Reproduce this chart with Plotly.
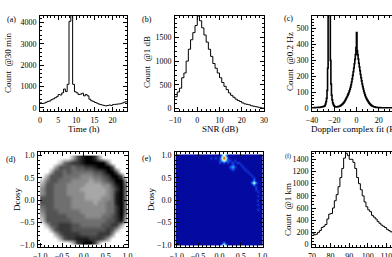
import plotly.graph_objects as go

FONT = "Liberation Serif"
W, H = 392, 257

# ---------------- data ----------------
# (a) counts per 30 min, 0..24 h
time_edges_a = [i * 0.5 for i in range(49)]
count_30min = [230, 200, 220, 260, 300, 320, 380, 420, 470, 520,
               620, 600, 700, 880, 760, 1100, 4050, 6000, 1100, 750,
               700, 620, 640, 680, 560, 620, 560, 400, 330, 300,
               250, 220, 180, 150, 130, 110, 90, 110, 130, 110,
               150, 160, 170, 180, 190, 220, 260, 280]

# (b) counts per 1 dB SNR, -10..30 dB
snr_edges = list(range(-10, 31))
snr_counts = [250, 350, 430, 650, 750, 1000, 1250, 1450, 1600, 1750,
              1950, 1850, 1700, 1550, 1400, 1250, 1100, 950, 850, 750,
              650, 550, 470, 400, 330, 280, 240, 200, 170, 150,
              120, 100, 90, 80, 60, 50, 40, 30, 20, 10]

# (c) Doppler counts, 0.5 Hz steps from -40 Hz
dop_edges = [-40 + i * 0.5 for i in range(161)]
dop_counts = [1, 1, 1, 1, 2, 1, 2, 2, 2, 2, 3, 2, 3, 3, 4, 4, 5, 5, 6, 7,
              8, 9, 11, 15, 24, 38, 60, 110, 250, 620, 900, 850, 600, 300, 150, 80, 50, 32, 22, 15,
              10, 8, 7, 6, 6, 6, 7, 8, 9, 10, 12, 14, 16, 19, 22, 26, 30, 34, 39, 45,
              52, 58, 65, 72, 80, 88, 97, 107, 118, 131, 146, 163, 183, 205, 228, 252, 278, 306, 336, 380,
              475, 360, 335, 308, 282, 258, 234, 211, 190, 170, 151, 134, 119, 105, 93, 82, 72, 64, 56, 50,
              44, 38, 33, 28, 24, 20, 17, 14, 12, 10, 8, 7, 6, 5, 4, 3, 3, 2, 2, 2,
              2, 1, 2, 1, 1, 1, 1, 1, 1, 1, 1, 1, 1, 1, 1, 1, 1, 1, 1, 1,
              1, 1, 1, 1, 1, 1, 1, 1, 1, 1, 1, 1, 1, 1, 1, 1, 1, 1, 1, 1]

# (d) echo density on the Dcosx / Dcosy plane (0 = none, 9 = densest), rows top -> bottom
dcos_centres = [-0.95 + 0.1 * i for i in range(20)]
density_rows = [
    "00000003689973000000",
    "00002567789999940000",
    "00036665667789996000",
    "00366565555566799600",
    "03666555544455679960",
    "25665554444344567994",
    "36655544443333446895",
    "46655544433333345795",
    "46655544443333345895",
    "66655554443333445895",
    "66655554444434455895",
    "56655554444444455795",
    "46665555544444455795",
    "36666655554444556794",
    "26666665555555566783",
    "03667776655555667730",
    "00367776666666676300",
    "00036777766667774000",
    "00003677888777630000",
    "00000003789962000000",
]

# (e) intensity map: sparse bright spots (x, y, value)
spot_x = [0.1, 0.05, 0.15, 0.1, 0.1, 0.05, 0.15, 0.05, 0.15,
          0.8, 0.75, 0.85, 0.8, 0.8,
          0.3, 0.25, 0.35, 0.3, 0.3,
          0.1, 0.05, 0.15, 0.1,
          -0.2, -0.1, 0.0, 0.2, 0.25, 0.35, 0.4, 0.45, 0.5, 0.55, 0.6, 0.65, 0.7, 0.75, 0.8,
          0.85, 0.85, 0.9, 0.9, 0.9, 0.9, 0.9,
          0.0, 0.2, 0.0, 0.1, 0.2, 0.3]
spot_y = [0.95, 0.95, 0.95, 0.9, 1.0, 0.9, 0.9, 1.0, 1.0,
          0.4, 0.4, 0.4, 0.35, 0.45,
          0.75, 0.75, 0.75, 0.7, 0.8,
          -1.0, -1.0, -1.0, -0.95,
          0.95, 0.95, 0.95, 0.95, 0.9, 0.9, 0.85, 0.85, 0.8, 0.75, 0.7, 0.65, 0.6, 0.55, 0.5,
          0.3, 0.25, 0.2, 0.1, 0.0, -0.1, -0.2,
          0.9, 0.9, 0.85, 0.85, 0.85, 0.85]
spot_v = [1.0, 0.6, 0.6, 0.6, 0.6, 0.35, 0.35, 0.35, 0.35,
          0.6, 0.3, 0.3, 0.3, 0.3,
          0.38, 0.16, 0.16, 0.16, 0.16,
          0.62, 0.3, 0.3, 0.3,
          0.12, 0.12, 0.12, 0.12, 0.12, 0.12, 0.12, 0.12, 0.12, 0.12, 0.12, 0.12, 0.12, 0.12, 0.12,
          0.12, 0.12, 0.12, 0.12, 0.12, 0.12, 0.12,
          0.15, 0.15, 0.15, 0.15, 0.15, 0.15]

# (f) counts per 1 km height, 70..120 km
height_edges = list(range(70, 121))
height_counts = [190, 160, 170, 200, 230, 280, 300, 330, 420, 500,
                 510, 600, 720, 820, 950, 1100, 1250, 1420, 1500, 1460,
                 1400, 1400, 1350, 1250, 1100, 1000, 900, 800, 700, 620,
                 570, 540, 480, 450, 420, 380, 350, 320, 300, 280,
                 250, 230, 210, 200, 190, 180, 170, 160, 150, 140]

# ---------------- figure ----------------
fig = go.Figure()


def step(x_edges, vals, xa, ya, width=1.0):
    fig.add_trace(go.Scatter(x=x_edges, y=list(vals) + [vals[-1]], mode="lines",
                             line=dict(shape="hv", color="black", width=width),
                             xaxis=xa, yaxis=ya, showlegend=False, hoverinfo="skip"))


step(time_edges_a, count_30min, "x", "y")
step(snr_edges, snr_counts, "x2", "y2")
step(dop_edges, dop_counts, "x3", "y3", width=1.6)

# (d) density heatmap
dens = [[int(c) for c in row] for row in density_rows][::-1]
fig.add_trace(go.Heatmap(x=dcos_centres, y=dcos_centres, z=dens, zmin=0, zmax=9,
                         colorscale=[[0, "white"], [0.3, "rgb(175,175,175)"], [1, "black"]],
                         zsmooth="best", showscale=False, xaxis="x4", yaxis="y4", hoverinfo="skip"))

# (e) intensity heatmap
grid = [round(-1 + 0.05 * i, 2) for i in range(41)]
zz = [[0.0] * 41 for _ in range(41)]
for sx, sy, sv in zip(spot_x, spot_y, spot_v):
    ix = int(round((sx + 1) / 0.05))
    iy = int(round((sy + 1) / 0.05))
    zz[iy][ix] = max(zz[iy][ix], sv)
fig.add_trace(go.Heatmap(x=grid, y=grid, z=zz, zmin=0, zmax=1, zsmooth="best",
                         colorscale=[[0, "rgb(4,10,160)"], [0.12, "rgb(20,60,225)"],
                                     [0.3, "rgb(30,140,255)"], [0.45, "rgb(140,235,255)"],
                                     [0.6, "rgb(255,250,200)"], [0.75, "rgb(255,170,40)"],
                                     [1, "rgb(205,45,0)"]],
                         showscale=False, xaxis="x5", yaxis="y5", hoverinfo="skip"))

step(height_edges, height_counts, "x6", "y6")


def dxr(a, b):
    return [a / W, min(b / W, 1.0)]


def dyr(top, bottom):
    return [1 - bottom / H, 1 - top / H]


tickfont = dict(family=FONT, size=8, color="black")


def axis(domain, rng, dtick, minor_dtick, anchor, mirror="ticks", fmt=None):
    d = dict(domain=domain, range=rng, dtick=dtick, showline=True, linecolor="black",
             linewidth=1, ticks="inside", ticklen=4, tickcolor="black", tickwidth=1,
             mirror=mirror, showgrid=False, zeroline=False, tickfont=tickfont,
             anchor=anchor, ticklabelstandoff=1, automargin=False,
             ticklabeloverflow="allow",
             minor=dict(ticks="inside", ticklen=2, dtick=minor_dtick, tickcolor="black",
                        showgrid=False))
    if fmt:
        d["tickformat"] = fmt
    return d


top = dyr(16, 111)
bot = dyr(152, 247)

fig.update_layout(
    width=W, height=H, margin=dict(l=0, r=0, t=0, b=0, autoexpand=False),
    paper_bgcolor="white", plot_bgcolor="white", showlegend=False,
    font=dict(family=FONT, size=9, color="black"),
    xaxis=axis(dxr(40, 127), [0, 24], 5, 1, "y"),
    yaxis=axis(top, [-150, 4300], 1000, 200, "x"),
    xaxis2=axis(dxr(175, 264), [-10, 30], 10, 2, "y2"),
    yaxis2=axis(top, [-50, 1950], 500, 100, "x2"),
    xaxis3=axis(dxr(312, 400), [-40, 32], 20, 5, "y3"),
    yaxis3=axis(top, [-20, 580], 100, 20, "x3", mirror=False),
    xaxis4=axis(dxr(38, 128), [-1.05, 1.01], 0.5, 0.1, "y4", fmt=".1f"),
    yaxis4=axis(bot, [-1.05, 1.08], 0.5, 0.1, "x4", fmt=".1f"),
    xaxis5=axis(dxr(175, 263), [-1.04, 1.02], 0.5, 0.1, "y5", fmt=".1f"),
    yaxis5=axis(bot, [-1.05, 1.08], 0.5, 0.1, "x5", fmt=".1f"),
    xaxis6=axis(dxr(312, 400), [70, 113], 10, 2, "y6"),
    yaxis6=axis(bot, [-40, 1520], 200, 50, "x6", mirror=False),
)


def ann(text, px, py, size=9, angle=0):
    fig.add_annotation(text=text, x=px / W, y=1 - py / H, xref="paper", yref="paper",
                       showarrow=False, textangle=angle, xanchor="center", yanchor="middle",
                       font=dict(family=FONT, size=size, color="black"))


ann("(a)", 11, 20, 8)
ann("(b)", 147, 20, 8)
ann("(c)", 288, 19, 8)
ann("(d)", 11, 159, 8)
ann("(e)", 146, 158, 8)
ann("(f)", 288, 156, 6)

ann("Count  @30 min", 8, 63, 9, -90)
ann("Time (h)", 83, 129, 9)
ann("Count  @1 dB", 147, 62, 9, -90)
ann("SNR (dB)", 220, 129, 9)
ann("Count  @0.2 Hz", 290, 62, 9, -90)
ann("Doppler complex fit (Hz)", 357, 129, 9)
ann("Dcosy", 17, 200, 9, -90)
ann("Dcosy", 151, 200, 9, -90)
ann("Count  @1 km", 288, 210, 9, -90)

fig.write_html("out.html", config={"displayModeBar": False})
